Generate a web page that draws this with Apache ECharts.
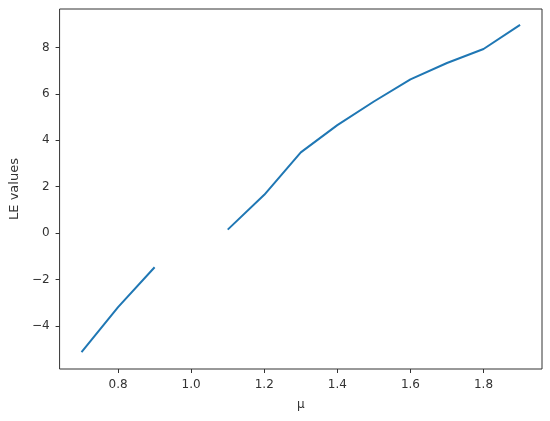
<!DOCTYPE html>
<html>
<head>
<meta charset="utf-8">
<script src="https://cdn.jsdelivr.net/npm/echarts@6/dist/echarts.min.js"></script>
<style>html,body{margin:0;padding:0;background:#fff}#c{width:550px;height:421px}</style>
</head>
<body>
<div id="c"></div>
<script>
const muValues = [0.7, 0.8, 0.9, 1.0, 1.1, 1.2, 1.3, 1.4, 1.5, 1.6, 1.7, 1.8, 1.9];
const leValues = [-5.13, -3.19, -1.47, null, 0.15, 1.65, 3.48, 4.65, 5.67, 6.62, 7.33, 7.93, 8.97];
const xTicks = [0.8, 1.0, 1.2, 1.4, 1.6, 1.8];
const yTicks = [-4, -2, 0, 2, 4, 6, 8];

const chart = echarts.init(document.getElementById('c'), null, {renderer: 'canvas'});
const font = 'DejaVu Sans';
chart.setOption({
  animation: false,
  grid: {left: 58, top: 9, right: 8, bottom: 52, show: true, borderColor: '#333', borderWidth: 1, backgroundColor: '#fff'},
  xAxis: {
    type: 'value', min: 0.64, max: 1.96,
    name: 'μ', nameLocation: 'middle', nameGap: 30,
    nameTextStyle: {color: '#333', fontFamily: font, fontSize: 12},
    axisLine: {show: false, onZero: false},
    splitLine: {show: false},
    axisTick: {show: true, length: 4, customValues: xTicks, lineStyle: {color: '#333'}},
    axisLabel: {color: '#333', fontFamily: font, fontSize: 12, margin: 10, customValues: xTicks,
      formatter: v => v.toFixed(1)}
  },
  yAxis: {
    type: 'value', min: -5.855, max: 9.655,
    name: 'LE values', nameLocation: 'middle', nameGap: 38, nameRotate: 90,
    nameTextStyle: {color: '#333', fontFamily: font, fontSize: 13},
    axisLine: {show: false, onZero: false},
    splitLine: {show: false},
    axisTick: {show: true, length: 4, customValues: yTicks, lineStyle: {color: '#333'}},
    axisLabel: {color: '#333', fontFamily: font, fontSize: 12, margin: 10, customValues: yTicks,
      formatter: v => String(v).replace('-', '\u2212')}
  },
  series: [{
    type: 'line',
    data: muValues.map((m, i) => [m, leValues[i]]),
    connectNulls: false,
    showSymbol: false,
    symbol: 'none',
    lineStyle: {color: '#1f77b4', width: 2},
    itemStyle: {color: '#1f77b4'}
  }]
});
</script>
</body>
</html>
